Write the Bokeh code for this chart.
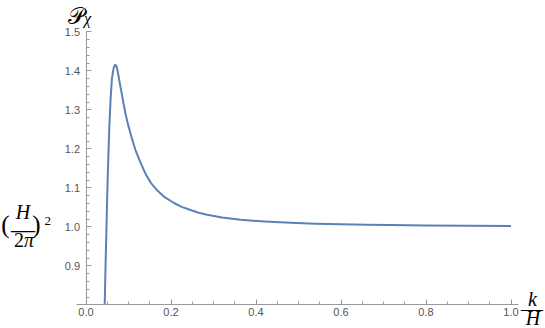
from bokeh.plotting import figure
from bokeh.models import LinearAxis, FixedTicker, Range1d, Label, NumeralTickFormatter
from bokeh.embed import file_html
from bokeh.resources import INLINE

# ---- data ----
k_over_H = [0.044, 0.046, 0.048, 0.050, 0.052, 0.055, 0.058, 0.061, 0.065, 0.068,
            0.071, 0.074, 0.077, 0.080, 0.084, 0.088, 0.093, 0.099, 0.107, 0.116,
            0.128, 0.140, 0.153, 0.168, 0.185, 0.207, 0.225, 0.246, 0.265, 0.285,
            0.320, 0.364, 0.420, 0.481, 0.540, 0.600, 0.660, 0.716, 0.800, 0.900,
            1.000]
P_chi = [0.800, 0.900, 0.990, 1.080, 1.160, 1.260, 1.330, 1.380, 1.407, 1.415,
         1.414, 1.402, 1.384, 1.365, 1.342, 1.318, 1.290, 1.262, 1.230, 1.198,
         1.165, 1.136, 1.112, 1.093, 1.076, 1.061, 1.051, 1.043, 1.036, 1.031,
         1.024, 1.018, 1.0136, 1.0102, 1.008, 1.0064, 1.0053, 1.0044, 1.0035,
         1.0027, 1.0022]

x_major = [0.0, 0.2, 0.4, 0.6, 0.8, 1.0]
x_minor = [0.05, 0.1, 0.15, 0.25, 0.3, 0.35, 0.45, 0.5, 0.55, 0.65, 0.7, 0.75,
           0.85, 0.9, 0.95]
y_major = [0.9, 1.0, 1.1, 1.2, 1.3, 1.4, 1.5]
y_minor = [0.82, 0.84, 0.86, 0.88, 0.92, 0.94, 0.96, 0.98, 1.02, 1.04, 1.06, 1.08,
           1.12, 1.14, 1.16, 1.18, 1.22, 1.24, 1.26, 1.28, 1.32, 1.34, 1.36, 1.38,
           1.42, 1.44, 1.46, 1.48]
x_axis_bounds = (-0.0224, 1.018)
y_axis_bounds = (0.8, 1.5)

LINE = "#5E81B5"
AXIS = "#999999"
LABEL = "#555555"

W, H = 545, 328


# picture-pixel -> data helpers
def X(px):
    return (px - 85.5) / 425.0


def Y(py):
    return 0.8 + (304.3 - py) / 390.0


p = figure(width=W, height=H,
           x_range=Range1d(X(0), X(W)), y_range=Range1d(Y(H), Y(0)),
           output_backend="svg", toolbar_location=None,
           x_axis_location=None, y_axis_location=None,
           min_border=0)
p.grid.grid_line_color = None
p.outline_line_color = None
p.background_fill_color = "white"
p.border_fill_color = "white"


def style(ax):
    ax.axis_line_color = AXIS
    ax.axis_line_width = 1
    ax.major_tick_line_color = AXIS
    ax.minor_tick_line_color = AXIS
    ax.major_tick_in = 5
    ax.major_tick_out = 0
    ax.minor_tick_in = 3
    ax.minor_tick_out = 0
    ax.major_label_text_font = "Liberation Sans"
    ax.major_label_text_font_size = "11px"
    ax.major_label_text_color = LABEL


xa = LinearAxis(ticker=FixedTicker(ticks=x_major, minor_ticks=x_minor),
                formatter=NumeralTickFormatter(format="0.0"),
                fixed_location=0.8, bounds=x_axis_bounds)
style(xa)
xa.major_label_standoff = 3
p.add_layout(xa, "below")

ya = LinearAxis(ticker=FixedTicker(ticks=y_major, minor_ticks=y_minor),
                formatter=NumeralTickFormatter(format="0.0"),
                fixed_location=0, bounds=y_axis_bounds)
style(ya)
ya.major_label_standoff = 6
p.add_layout(ya, "left")

p.line(k_over_H, P_chi, line_color=LINE, line_width=2, line_join="round")


def lab(text, px, py, size, align="center", baseline="middle", style_="normal",
        font="Liberation Serif"):
    p.add_layout(Label(x=X(px), y=Y(py), text=text, text_font=font,
                       text_font_size=size, text_align=align, text_baseline=baseline,
                       text_font_style=style_, text_color="#000000"))


# P_chi at top of y axis
lab("\U0001D4AB", 75.5, 15, "23px", baseline="alphabetic", font="DejaVu Serif")
lab("\u03c7", 83.5, 18, "16px", align="left", baseline="alphabetic", style_="italic")

# (H / 2pi)^2 at the left
lab("(", 5, 223.5, "25px")
lab("H", 22.5, 211.5, "20px", style_="italic")
lab("\u2014", 22.5, 228.5, "24px")
lab("2", 18.5, 239.5, "20px")
lab("\u03c0", 23.5, 239.5, "20px", align="left", style_="italic")
lab(")", 36, 223.5, "25px")
lab("2", 44, 220, "13px", align="left")

# k / H at the right end of the x axis
lab("k", 532, 298, "20px", style_="italic")
lab("\u2014", 531.5, 307.5, "22px")
lab("H", 532.5, 328, "20px", baseline="bottom", style_="italic")

open("out.html", "w").write(file_html(p, INLINE))
